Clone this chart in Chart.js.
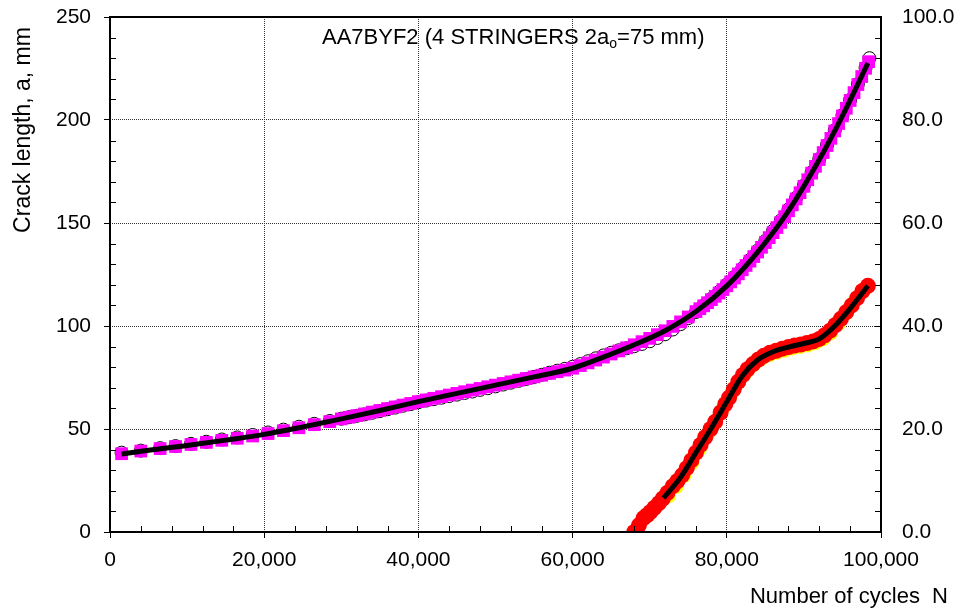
<!DOCTYPE html>
<html lang="en">
<head>
<meta charset="UTF-8">
<title>AA7BYF2 crack growth</title>
<script src="https://cdn.jsdelivr.net/npm/chart.js"></script>
<style>
  body { margin: 0; background: #fff; }
  canvas { display: block; }
</style>
</head>
<body>
<canvas id="crack" width="961" height="609"></canvas>
<script>
// Crack length a (mm), magenta squares
const magN = [1500, 4000, 6500, 8500, 10500, 12500, 14500, 16500, 18500, 20500, 22500, 24500, 26500, 28500,
  30000, 31000, 32000, 33000, 34000, 35000, 36000, 37000, 38000, 39000, 40000, 41000, 42000, 43000, 44000,
  45000, 46000, 47000, 48000, 49000, 50000, 51000, 52000, 53000, 54000, 55000, 56000, 57000, 58000, 59000,
  60000, 61000, 62000, 63000, 64000, 65000, 66000, 67000, 68000, 69000, 70000, 71000, 72000, 73000, 74000,
  75000, 76000, 76500, 77000, 77500, 78000, 78500, 79000, 79500, 80000, 80500, 81000, 81500, 82000, 82500,
  83000, 83500, 84000, 84500, 85000, 85500, 86000, 86500, 87000, 87500, 88000, 88500, 89000, 89500,
  90000, 90500, 91000, 91500, 92000, 92500, 93000, 93500, 94000, 94500, 95000, 95500, 96000, 96500,
  97000, 97500, 98000, 98400];
const magA = [38.0, 39.3, 40.5, 41.5, 42.5, 43.5, 44.5, 45.5, 46.6, 47.8, 49.2, 50.6, 52.1, 53.6,
  54.9, 55.7, 56.5, 57.3, 58.2, 59.0, 59.9, 60.7, 61.6, 62.4, 63.3, 64.1, 64.9, 65.7, 66.5,
  67.3, 68.1, 68.9, 69.7, 70.5, 71.3, 72.1, 72.9, 73.7, 74.5, 75.3, 76.1, 77.0, 77.8, 78.6,
  79.5, 80.8, 82.1, 83.5, 84.9, 86.4, 87.9, 89.4, 90.9, 92.4, 94.0, 95.8, 97.7, 99.8, 102.0,
  104.4, 107.0, 108.4, 109.8, 111.3, 112.8, 114.4, 116.0, 117.7, 119.5, 121.4, 123.3, 125.3, 127.3, 129.4,
  131.5, 133.7, 135.9, 138.2, 140.5, 142.9, 145.3, 147.8, 150.3, 153.1, 155.9, 158.8, 161.7, 164.7,
  167.8, 171.0, 174.2, 177.5, 180.8, 184.2, 187.6, 191.1, 194.7, 198.3, 202.0, 205.7, 209.5, 213.3,
  217.2, 221.1, 225.1, 228.3];

// Crack length a (mm), open circles
const circN = [1500, 4000, 6500, 8500, 10500, 12500, 14500, 16500, 18500, 20500, 22500, 24500, 26500, 28500,
  30000, 31000, 32000, 33000, 34000, 35000, 36000, 37000, 38000, 39000, 40000, 41000, 42000, 43000, 44000,
  45000, 46000, 47000, 48000, 49000, 50000, 51000, 52000, 53000, 54000, 55000, 56000, 57000, 58000, 59000,
  60000, 61000, 62000, 63000, 64000, 65000, 66000, 67000, 68000, 69000, 70000, 71000, 72000, 73000, 74000,
  75000, 76000, 77000, 78000, 79000, 80000, 81000, 82000, 83000, 84000, 85000, 86000, 87000, 88000, 89000,
  90000, 91000, 92000, 93000, 94000, 95000, 96000, 97000, 98000, 98500];
const circA = [38.5, 39.5, 40.7, 41.7, 42.8, 43.8, 44.9, 45.9, 47.1, 48.3, 49.7, 51.1, 52.5, 53.9,
  55.0, 55.7, 56.4, 57.1, 57.9, 58.7, 59.6, 60.4, 61.3, 62.1, 63.0, 63.8, 64.5, 65.2, 66.0,
  66.7, 67.5, 68.2, 69.0, 69.8, 70.7, 71.6, 72.5, 73.4, 74.3, 75.3, 76.3, 77.3, 78.3, 79.2,
  80.2, 81.5, 82.9, 84.3, 85.7, 87.0, 88.2, 89.2, 90.2, 91.3, 92.6, 94.2, 96.0, 98.3, 100.9,
  103.8, 106.8, 109.9, 113.2, 116.6, 120.1, 123.9, 127.9, 132.1, 136.6, 141.3, 146.2, 151.2, 156.6, 162.3,
  168.2, 174.6, 181.1, 187.9, 195.0, 202.3, 209.8, 217.5, 225.4, 230.0];

// Fitted crack length curve (left axis)
const fitN = [1500, 5000, 10000, 15000, 20000, 25000, 30000, 35000, 40000, 45000, 50000, 55000, 60000,
  64000, 68000, 72000, 76000, 80000, 84000, 88000, 92000, 95000, 98300];
const fitA = [37.8, 39.7, 42.0, 44.6, 47.4, 51.0, 54.9, 59.0, 63.3, 67.3, 71.3, 75.3, 79.5,
  84.9, 90.9, 97.7, 107.0, 119.5, 135.9, 155.9, 180.8, 202.0, 227.6];

// Right axis quantity, red circles
const redN = [68000, 68600, 69200, 69700, 70100, 70600, 71200, 71700, 72300, 73000, 73600, 74200, 74800,
  75400, 76000, 76600, 77200, 77900, 78500, 79200, 79800, 80300, 80900, 81500, 82100, 82700, 83400,
  84100, 84800, 85600, 86400, 87200, 88000, 88800, 89600, 90400, 91200, 92000, 92700, 93400, 94100,
  94800, 95500, 96200, 96900, 97600, 98300];
const redV = [0.0, 1.3, 2.7, 3.3, 3.9, 4.7, 5.6, 6.5, 7.6, 8.9, 9.9, 11.0, 12.4,
  13.9, 15.4, 16.9, 18.4, 20.0, 21.4, 23.2, 24.8, 26.1, 27.7, 29.2, 30.5, 31.6, 32.6,
  33.5, 34.2, 34.8, 35.2, 35.6, 35.9, 36.2, 36.4, 36.7, 37.0, 37.5, 38.2, 39.1, 40.2,
  41.4, 42.7, 44.0, 45.4, 46.8, 47.8];

// Right axis quantity, yellow points (mostly hidden under the red ones)
const yelN = [72500, 73500, 74500, 75500, 76500, 77500, 78500, 79500, 80500, 81500, 82500, 83500, 84500,
  85500, 86500, 87500, 88500, 89500, 90500, 91500, 92500, 93500, 94500, 95500, 96500, 97500];
const yelV = [7.0, 8.8, 10.9, 13.4, 16.1, 18.8, 21.2, 24.0, 26.6, 29.0, 30.9, 32.4, 33.6,
  34.3, 34.8, 35.2, 35.6, 35.9, 36.2, 36.7, 37.4, 38.6, 40.4, 42.4, 44.7, 46.8];

// Fitted curve for the right axis quantity
const fit2N = [71800, 74000, 76000, 78000, 80000, 82000, 84000, 86000, 88000, 90000, 92000, 94000, 96000, 98300];
const fit2V = [6.6, 10.6, 15.4, 20.2, 25.3, 30.3, 33.4, 35.0, 35.9, 36.6, 37.5, 40.0, 43.4, 47.8];

const xy = (xs, ys) => xs.map((x, i) => ({ x: x, y: ys[i] }));
const FONT = '"Liberation Sans", Arial, sans-serif';

// Frame, inner minor ticks and the free-standing texts
const decor = {
  id: 'decor',
  afterDraw(chart) {
    const ctx = chart.ctx;
    const a = chart.chartArea;
    const sx = chart.scales.x, sy = chart.scales.y, sr = chart.scales.y2;
    ctx.save();
    ctx.strokeStyle = '#000';
    ctx.lineWidth = 1;
    ctx.beginPath();
    for (let v = 4000; v < 100000; v += 4000) {
      if (v % 20000 === 0) continue;
      const px = Math.round(sx.getPixelForValue(v)) + 0.5;
      ctx.moveTo(px, a.bottom); ctx.lineTo(px, a.bottom - 6);
    }
    for (let v = 10; v < 250; v += 10) {
      if (v % 50 === 0) continue;
      const py = Math.round(sy.getPixelForValue(v)) + 0.5;
      ctx.moveTo(a.left, py); ctx.lineTo(a.left + 6, py);
    }
    for (let v = 4; v < 100; v += 4) {
      const py = Math.round(sr.getPixelForValue(v)) + 0.5;
      ctx.moveTo(a.right, py); ctx.lineTo(a.right - 6, py);
    }
    ctx.stroke();

    ctx.lineWidth = 2;
    ctx.strokeRect(a.left, a.top, a.right - a.left, a.bottom - a.top);

    ctx.fillStyle = '#000';
    ctx.textBaseline = 'alphabetic';
    ctx.textAlign = 'left';
    const big = '22px ' + FONT, small = '14px ' + FONT;
    let x = 322;
    const y = 44;
    ctx.font = big;
    ctx.fillText('AA7BYF2 (4 STRINGERS 2a', x, y);
    x += ctx.measureText('AA7BYF2 (4 STRINGERS 2a').width;
    ctx.font = small;
    ctx.fillText('o', x, y + 4);
    x += ctx.measureText('o').width;
    ctx.font = big;
    ctx.fillText('=75 mm)', x, y);

    ctx.textAlign = 'right';
    ctx.fillText('Number of cycles  N', 948, 603);

    ctx.translate(30, 130);
    ctx.rotate(-Math.PI / 2);
    ctx.textAlign = 'center';
    ctx.font = '23px ' + FONT;
    ctx.fillText('Crack length, a, mm', 0, 0);
    ctx.restore();
  }
};

const gridDash = { display: false, dash: [1, 1] };
// vertical axes: fixed width, no extra room for the end labels
const fixWidth = w => s => { s.width = w; s.paddingTop = 0; s.paddingBottom = 0; };

new Chart(document.getElementById('crack'), {
  type: 'scatter',
  data: {
    datasets: [
      { data: xy(fitN, fitA), yAxisID: 'y', showLine: true, borderColor: '#000', borderWidth: 5,
        pointRadius: 0, cubicInterpolationMode: 'monotone', order: 0 },
      { data: xy(fit2N, fit2V), yAxisID: 'y2', showLine: true, borderColor: '#000', borderWidth: 5,
        pointRadius: 0, cubicInterpolationMode: 'monotone', order: 0 },
      { data: xy(redN, redV), yAxisID: 'y2', pointStyle: 'circle', pointRadius: 8,
        backgroundColor: '#ff0000', borderWidth: 0, order: 1 },
      { data: xy(yelN, yelV), yAxisID: 'y2', pointStyle: 'circle', pointRadius: 7,
        backgroundColor: '#ffff00', borderWidth: 0, order: 2 },
      { data: xy(magN, magA), yAxisID: 'y', pointStyle: 'rect', pointRadius: 9,
        backgroundColor: '#ff00ff', borderWidth: 0, order: 3 },
      { data: xy(circN, circA), yAxisID: 'y', pointStyle: 'circle', pointRadius: 6.5,
        backgroundColor: '#ffffff', borderColor: '#000', borderWidth: 1, order: 4 }
    ]
  },
  options: {
    responsive: false,
    animation: false,
    events: [],
    layout: { padding: { top: 17, left: 0, right: 0, bottom: 0 } },
    plugins: { legend: { display: false }, tooltip: { enabled: false } },
    scales: {
      x: {
        type: 'linear', min: 0, max: 100000,
        afterFit: s => { s.height = 77; s.paddingLeft = 0; s.paddingRight = 0; },
        ticks: { stepSize: 20000, padding: 10, color: '#000', font: { family: FONT, size: 21 },
          maxRotation: 0, callback: v => v.toLocaleString('en-US') },
        grid: { color: '#333', lineWidth: 1, tickLength: 6, tickColor: '#000', tickBorderDash: [] },
        border: gridDash
      },
      y: {
        position: 'left', min: 0, max: 250,
        afterFit: fixWidth(110),
        ticks: { stepSize: 50, padding: 13, color: '#000', font: { family: FONT, size: 21 } },
        grid: { color: '#333', lineWidth: 1, tickLength: 6, tickColor: '#000', tickBorderDash: [] },
        border: gridDash
      },
      y2: {
        position: 'right', min: 0, max: 100,
        afterFit: fixWidth(80),
        ticks: { stepSize: 20, padding: 21, color: '#000', font: { family: FONT, size: 21 },
          callback: v => v.toFixed(1) },
        grid: { drawOnChartArea: false, drawTicks: false },
        border: { display: false }
      }
    }
  },
  plugins: [decor]
});
</script>
</body>
</html>
